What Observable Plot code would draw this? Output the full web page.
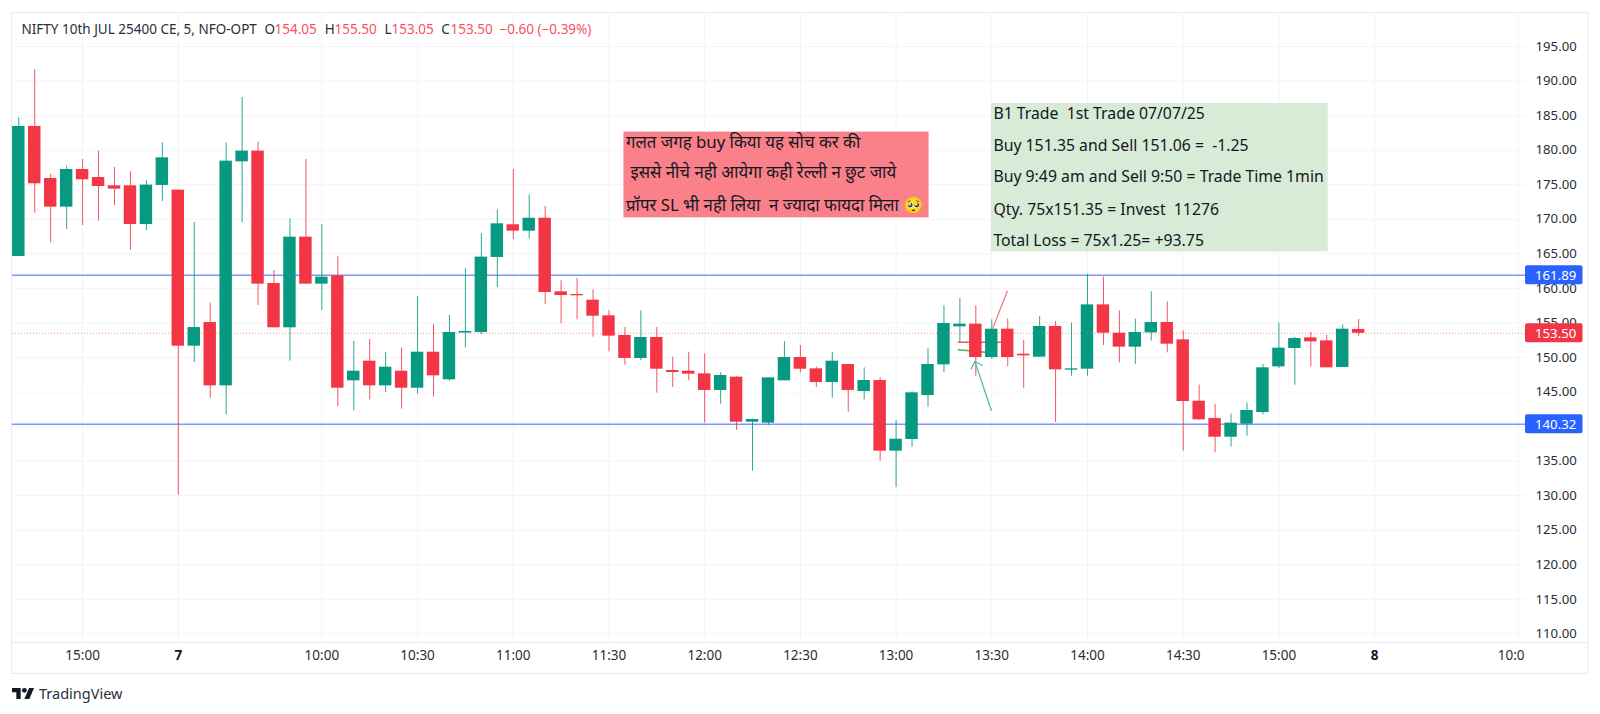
<!DOCTYPE html>
<html><head><meta charset="utf-8">
<script src="https://cdn.jsdelivr.net/npm/d3@7"></script>
<script src="https://cdn.jsdelivr.net/npm/@observablehq/plot@0.6"></script>
<style>html,body{margin:0;padding:0;background:#fff}svg{display:block}</style>
</head><body><div id="chart"></div>
<script>
const opens=[164.61,183.43,175.90,171.75,177.20,176.04,174.84,174.84,169.24,174.89,174.21,151.63,155.06,145.89,178.31,179.86,160.70,154.29,167.41,160.61,161.81,146.62,149.46,145.89,148.01,145.55,150.76,146.76,153.53,153.61,164.47,169.20,168.27,170.15,159.50,159.11,158.29,156.02,153.18,149.85,152.89,148.11,148.01,147.63,145.22,147.15,140.63,140.49,146.62,149.99,148.35,146.37,148.98,145.07,146.66,136.44,138.13,144.49,148.93,154.43,154.82,149.99,154.09,150.47,150.04,154.48,148.16,148.30,157.61,153.51,151.49,153.56,155.06,152.55,143.67,141.16,138.46,140.34,142.03,148.64,151.30,152.84,152.40,148.55,154.05];
const highs=[184.68,191.67,176.48,177.69,178.65,179.86,177.49,176.86,175.56,181.06,174.21,169.53,157.86,181.06,187.62,181.16,162.59,170.06,178.65,169.24,164.56,152.31,152.60,150.76,151.39,158.82,154.77,156.07,162.87,167.90,171.37,177.20,173.54,171.85,161.09,161.42,159.78,156.75,154.33,156.75,154.33,150.04,150.76,150.52,147.77,147.20,141.07,147.05,152.31,151.73,148.59,150.76,148.98,148.50,147.05,140.87,145.02,151.25,157.47,158.53,157.47,155.44,155.54,152.45,155.93,155.20,154.96,162.00,161.62,156.75,155.54,159.50,158.05,153.85,145.99,143.19,141.79,143.43,148.98,154.96,152.89,153.61,153.18,154.72,155.50];
const lows=[164.61,170.88,166.59,168.52,169.10,169.73,171.99,165.53,168.37,172.57,130.07,149.27,144.11,141.70,169.48,157.52,154.29,149.46,160.61,156.80,142.90,142.27,143.87,144.93,142.52,144.69,144.25,146.57,151.39,153.32,160.12,167.07,167.17,157.70,154.86,155.44,152.94,150.81,148.88,149.51,144.83,145.65,146.62,140.49,143.24,139.43,133.54,140.15,146.62,147.77,145.65,144.10,142.08,143.87,134.99,131.18,137.02,142.80,147.82,152.16,147.20,149.70,148.64,145.55,150.04,140.59,147.29,147.29,151.73,149.22,148.98,152.36,150.67,136.44,140.97,136.20,137.02,138.61,141.65,148.40,145.99,148.64,148.50,148.55,153.05];
const closes=[183.43,175.13,171.75,177.20,175.71,174.74,174.36,169.24,174.94,178.89,151.63,154.33,145.89,178.41,179.86,160.61,154.29,167.41,160.61,161.62,145.55,148.01,145.89,148.59,145.55,150.76,147.34,153.61,153.76,164.52,169.34,168.28,170.15,159.40,158.96,158.92,155.97,153.08,149.85,152.89,148.30,147.82,147.58,145.22,147.39,140.63,141.02,147.05,149.99,148.30,146.37,149.46,145.22,146.66,136.44,138.17,144.88,148.98,154.91,154.82,149.99,154.09,149.99,150.23,154.48,148.21,148.35,157.61,153.51,151.49,153.61,155.06,151.92,143.62,140.97,138.46,140.49,142.32,148.50,151.34,152.74,152.26,148.50,154.09,153.50];

const priceTicks=[110,115,120,125,130,135,140,145,150,155,160,165,170,175,180,185,190,195];
const timeTickBars=[4,19,25,31,37,43,49,55,61,67,73,79];
const timeTickLabels=["15:00","10:00","10:30","11:00","11:30","12:00","12:30","13:00","13:30","14:00","14:30","15:00"];
const dayTickBars=[10,85];
const dayTickLabels=["7","8"];
const cutTickBars=[94];
const cutTickLabels=["10:0"];

const hLevels=[161.89,140.32];
const lastPrice=153.50;
const priceTags=[{v:161.89,c:"#2962ff"},{v:140.32,c:"#2962ff"},{v:153.50,c:"#f23645"}];

const redBox={x1:37.94,x2:57.07,y1:170.21,y2:182.61};
const greenBox={x1:60.97,x2:82.09,y1:165.28,y2:186.75};
const redLines=["गलत जगह buy किया यह सोच कर की"," इससे नीचे नही आयेगा कही रेल्ली न छुट जाये","प्रॉपर SL भी नही लिया  न ज्यादा फायदा मिला 🥺"];
const redLineY=[181.15,176.7,171.99];
const greenLines=["B1 Trade  1st Trade 07/07/25","Buy 151.35 and Sell 151.06 =  -1.25","Buy 9:49 am and Sell 9:50 = Trade Time 1min","Qty. 75x151.35 = Invest  11276","Total Loss = 75x1.25= +93.75"];
const greenLineY=[185.26,180.67,176.09,171.41,166.92];

const tealArrow=[[60.97,142.32],[59.94,149.41]];
const tealHeadA=[[59.71,148.35],[59.94,149.41],[60.4,148.83]];
const redArrow=[[61.97,159.59],[61.05,154.14]];
const redTrade=[[58.9,152.21],[61.66,152.21]];
const greenTrade=[[58.9,151.1],[60.6,150.76]];

const RED="#f23645",TEAL="#089981",GRID="#f3f4f6",BORDER="#e8eaf2",INK="#2a2e39",LEG="#f7525f";
const FONT='"Noto Sans","Open Sans",sans-serif';
const bars=d3.range(opens.length);
const bw=0.39;
const up=i=>closes[i]>=opens[i];

const hudText=(str,x,y,color)=>Plot.text([str],{text:d=>d,frameAnchor:"top-left",dx:x-12,dy:y-12,textAnchor:"start",lineAnchor:"middle",fill:color,fontSize:13.5,fontFamily:FONT});
const path=(pts,stroke,w,op=1)=>Plot.line(pts,{x:d=>d[0],y:d=>d[1],stroke,strokeWidth:w,strokeOpacity:op});

const chrome=(index,scales,values,dim)=>{
  const g=d3.create("svg:g").attr("text-anchor","start");
  g.append("rect").attr("x",11.5).attr("y",12.5).attr("width",1576.5).attr("height",661).attr("fill","none").attr("stroke",BORDER);
  g.append("line").attr("x1",12).attr("x2",1588).attr("y1",642.5).attr("y2",642.5).attr("stroke",BORDER);
  const logo=g.append("g").attr("transform","translate(12,685.4) scale(0.62)").attr("fill","#131722");
  logo.append("path").attr("d","M14 22H7V11H0V4h14v18zM28 22h-8l7.5-18h8L28 22z");
  logo.append("circle").attr("cx",20).attr("cy",8).attr("r",4);
  g.append("text").attr("x",39).attr("y",694).attr("dy","0.36em").attr("fill","#2a2e39").attr("font-size",14.5).attr("font-family",FONT).text("TradingView");
  for(const t of priceTags){
    const y=scales.y(t.v);
    g.append("rect").attr("x",1525).attr("y",y-9.5).attr("width",57.5).attr("height",19).attr("rx",2).attr("fill",t.c);
    g.append("text").attr("x",1535).attr("y",y).attr("dy","0.36em").attr("fill","#fff").attr("font-size",13.2).attr("font-family",FONT).text(t.v.toFixed(2));
  }
  return g.node();
};

const plot=Plot.plot({
  width:1600,height:714,
  marginLeft:12,marginRight:75,marginTop:12,marginBottom:72,
  style:{background:"#fff",whiteSpace:"pre",fontFamily:FONT},
  x:{type:"linear",domain:[-0.395,94.46]},
  y:{type:"linear",domain:[108.75,199.92]},
  marks:[
    Plot.ruleY(priceTicks,{stroke:GRID}),
    Plot.ruleX([...timeTickBars,...dayTickBars,...cutTickBars],{stroke:GRID}),
    Plot.ruleY(hLevels,{stroke:"#7a98f7",strokeWidth:1.5}),
    Plot.ruleY([lastPrice],{stroke:RED,strokeOpacity:0.6,strokeDasharray:"1,2"}),
    Plot.rect([redBox],{x1:"x1",x2:"x2",y1:"y1",y2:"y2",fill:"#fa808a"}),
    Plot.rect([greenBox],{x1:"x1",x2:"x2",y1:"y1",y2:"y2",fill:"#d7ebd7"}),
    path(redTrade,"#f7525f",1.5),
    path(greenTrade,"#4caf50",1.5),
    Plot.ruleX(bars,{x:i=>i,y1:i=>lows[i],y2:i=>highs[i],stroke:i=>up(i)?TEAL:RED,strokeWidth:1,strokeOpacity:0.85}),
    Plot.rect(bars,{x1:i=>i-bw,x2:i=>i+bw,y1:i=>opens[i],y2:i=>closes[i],fill:i=>up(i)?TEAL:RED,inset:0}),
    path(tealArrow,"#4fb8a4",1.2),
    path(tealHeadA,"#4fb8a4",1.2),
    path(redArrow,"#f7727f",1.2),
    Plot.text(redLines,{text:d=>d,x:38.07,y:(d,i)=>redLineY[i],textAnchor:"start",fill:"#131722",fontSize:16.8}),
    Plot.text(greenLines,{text:d=>d,x:61.1,y:(d,i)=>greenLineY[i],textAnchor:"start",fill:"#131722",fontSize:15.8}),
    Plot.axisY(priceTicks,{anchor:"right",tickSize:0,tickPadding:10,tickFormat:d=>d.toFixed(2),label:null,fontSize:13.2,fill:INK,fontFamily:FONT}),
    Plot.axisX(timeTickBars,{anchor:"bottom",tickSize:0,tickPadding:8,tickFormat:d=>timeTickLabels[timeTickBars.indexOf(d)],label:null,fontSize:13.5,fill:INK,fontFamily:FONT}),
    Plot.axisX(dayTickBars,{anchor:"bottom",tickSize:0,tickPadding:8,tickFormat:d=>dayTickLabels[dayTickBars.indexOf(d)],label:null,fontSize:13.5,fill:"#131722",fontWeight:"bold",fontFamily:FONT}),
    Plot.axisX(cutTickBars,{anchor:"bottom",tickSize:0,tickPadding:8,tickFormat:d=>cutTickLabels[cutTickBars.indexOf(d)],label:null,fontSize:13.5,fill:INK,dx:-7,fontFamily:FONT}),
    hudText("NIFTY 10th JUL 25400 CE, 5, NFO-OPT",21,29,INK),
    hudText("O",264,29,INK),hudText("154.05",274,29,LEG),
    hudText("H",324.3,29,INK),hudText("155.50",334,29,LEG),
    hudText("L",384,29,INK),hudText("153.05",391,29,LEG),
    hudText("C",440.7,29,INK),hudText("153.50",450,29,LEG),
    hudText("−0.60 (−0.39%)",499,29,LEG),
    chrome
  ]
});
document.getElementById("chart").append(plot);
</script></body></html>
